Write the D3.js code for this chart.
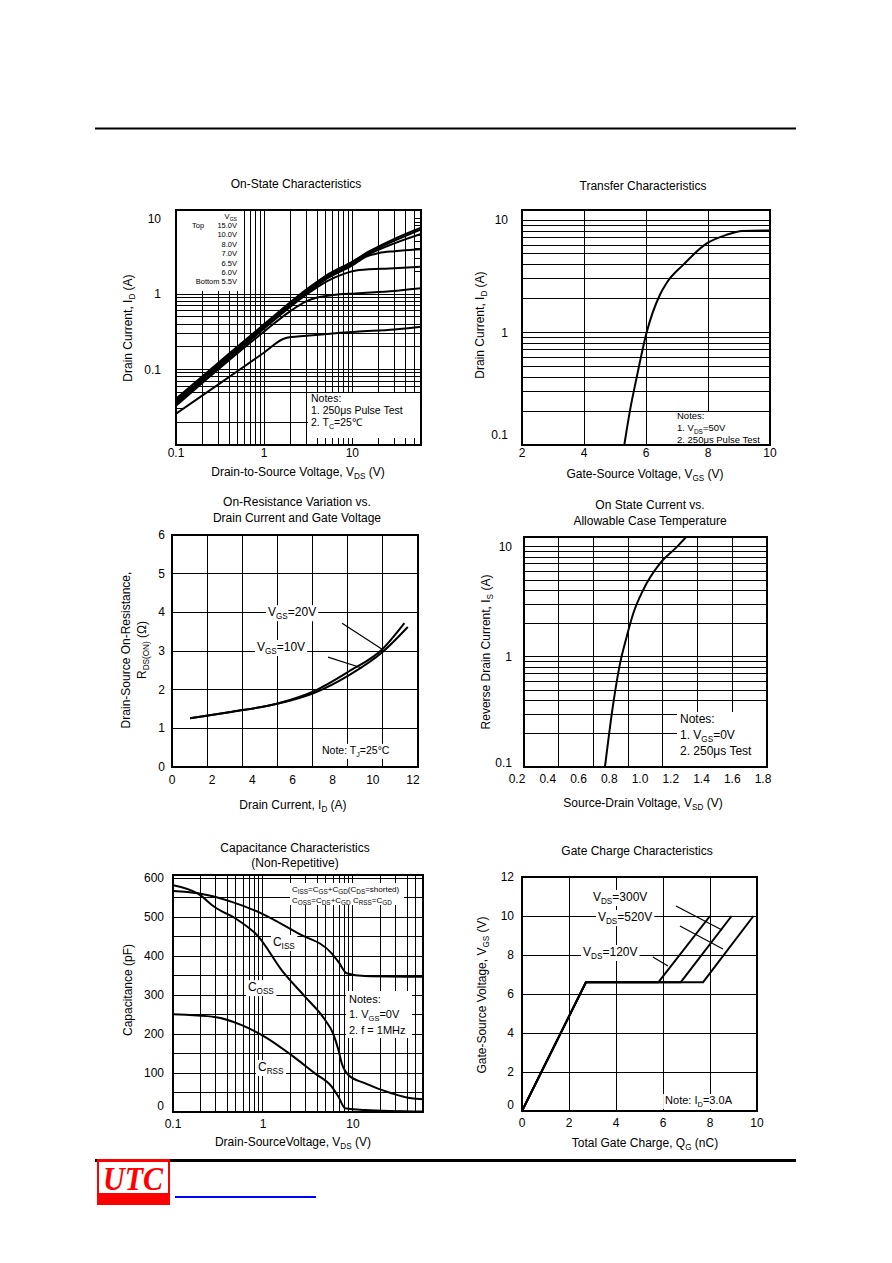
<!DOCTYPE html>
<html>
<head>
<meta charset="utf-8">
<title>MOSFET characteristic curves</title>
<style>
body { margin: 0; background: #fff; }
svg { display: block; }
text { font-family: "Liberation Sans", Arial, sans-serif; fill: #000; }
.grid { stroke: #000; stroke-width: 1px; shape-rendering: crispEdges; }
.frame { fill: none; stroke: #000; stroke-width: 1.3px; shape-rendering: crispEdges; }
.curve { fill: none; stroke: #000; stroke-width: 2px; stroke-linejoin: round; }
.lead { stroke: #000; stroke-width: 1.2px; }
</style>
</head>
<body>
<script src="https://cdn.jsdelivr.net/npm/d3@7/dist/d3.min.js"></script>
<script>

// ---- On-State Characteristics: [VDS (V), ID (A)] per gate voltage ----
var onStateVgs = ["15.0V", "10.0V", "8.0V", "7.0V", "6.5V", "6.0V", "5.5V"];
var onState150 = [[0.1,0.041],[0.3,0.122],[1,0.40],[3,1.15],[5,1.75],[10,2.7],[16,3.75],[30,5.4],[60,7.6]];
var onState100 = [[0.1,0.039],[0.3,0.117],[1,0.38],[3,1.10],[5,1.70],[10,2.6],[16,3.6],[30,5.1],[60,7.2]];
var onState80  = [[0.1,0.037],[0.3,0.112],[1,0.37],[3,1.06],[5,1.64],[10,2.5],[16,3.45],[30,4.7],[60,6.25]];
var onState70  = [[0.1,0.036],[0.3,0.108],[1,0.36],[3,1.02],[5,1.58],[10,2.4],[14,3.1],[20,3.5],[30,3.7],[60,3.94]];
var onState65  = [[0.1,0.035],[0.3,0.105],[1,0.35],[3,0.98],[5,1.45],[8,1.85],[12,2.08],[30,2.2],[60,2.31]];
var onState60  = [[0.1,0.033],[0.3,0.10],[1,0.32],[2,0.60],[3,0.80],[4,0.9],[6,0.97],[11,1.02],[30,1.1],[60,1.19]];
var onState55  = [[0.1,0.026],[0.3,0.063],[1,0.168],[1.73,0.26],[3,0.28],[11,0.317],[30,0.34],[60,0.37]];
var onStateCurves = [onState150, onState100, onState80, onState70, onState65, onState60, onState55];

// ---- Transfer Characteristics ----
var transferVgs = [5.3, 5.48, 5.7, 6.02, 6.45, 6.67, 7.2, 7.96, 8.6, 9.1, 10];
var transferId  = [0.1, 0.2, 0.4, 1.0, 2.17, 2.77, 4.0, 6.2, 7.4, 8.0, 8.1];

// ---- On-Resistance vs Drain Current ----
var rdsIdA = [0.9, 3, 5.3, 7.1, 8.8, 10.5, 11.57];
var rdsA   = [1.26, 1.43, 1.65, 1.97, 2.47, 3.06, 3.72];
var rdsIdB = [0.9, 3, 5.3, 7.1, 8.8, 10.5, 11.74];
var rdsB   = [1.26, 1.43, 1.64, 1.92, 2.37, 2.98, 3.62];

// ---- Reverse drain current vs source-drain voltage ----
var diodeVsd = [0.772, 0.826, 0.87, 0.913, 0.956, 1.02, 1.13, 1.24, 1.30];
var diodeIs  = [0.1, 0.377, 0.87, 1.52, 2.48, 4.04, 7.07, 10, 12.3];

// ---- Capacitance: [VDS (V), C (pF)] ----
var cissData = [[0.1,567],[0.19,561],[0.45,539],[0.97,509],[2.46,458],[5.8,407],[6.9,385],[8.5,356],[13.5,349],[60,347]];
var cossData = [[0.1,582],[0.19,560],[0.29,526],[0.53,492],[0.89,450],[1.61,364],[2.93,296],[4.9,236],[6.0,202],[6.9,159],[7.5,125],[8.9,95],[13.5,74],[26.8,48],[44.7,35],[60,33]];
var crssData = [[0.1,251],[0.29,244],[0.58,223],[1.05,193],[2.07,146],[3.78,99],[5.8,65],[6.9,39],[8.2,9.5],[13.5,5],[60,1]];

// ---- Gate charge: QG (nC) / VGS (V) per drain voltage ----
var gateVds = ["120V", "300V", "520V"];
var qg120 = [0, 2.72, 5.8, 8.0];
var qg300 = [0, 2.72, 6.75, 8.92];
var qg520 = [0, 2.72, 7.7, 9.85];
var vgsSteps = [0, 6.6, 6.6, 10];

var svg = d3.select("body").append("svg").attr("width", 892).attr("height", 1263);
var clipN = 0;

function label(g, x, y, str, o) {
  o = o || {};
  var size = o.size || 12;
  var subScale = o.sub || 0.68;
  var t = g.append("text").attr("x", x).attr("y", y).attr("font-size", size)
    .attr("text-anchor", o.anchor || "start");
  if (o.rotate) t.attr("transform", "rotate(-90," + x + "," + y + ")");
  var shift = Math.round(size * 0.28), low = false;
  str.split(/(_\{[^}]*\})/).forEach(function(p) {
    if (!p) return;
    if (p.slice(0, 2) === "_{") {
      t.append("tspan").attr("font-size", size * subScale).attr("dy", low ? 0 : shift).text(p.slice(2, -1));
      low = true;
    } else {
      var s = t.append("tspan").text(p);
      if (low) s.attr("dy", -shift);
      low = false;
    }
  });
  if (o.bg) {
    var b = t.node().getBBox();
    g.insert("rect", function() { return t.node(); })
      .attr("x", b.x - 2).attr("y", b.y).attr("width", b.width + 4).attr("height", b.height)
      .attr("fill", "#fff");
  }
  return t;
}
function vline(g, x, y0, y1) {
  g.append("line").attr("class", "grid").attr("x1", x).attr("x2", x).attr("y1", y0).attr("y2", y1);
}
function hline(g, y, x0, x1) {
  g.append("line").attr("class", "grid").attr("x1", x0).attr("x2", x1).attr("y1", y).attr("y2", y);
}
function whiteBox(g, x, y, w, h) {
  g.append("rect").attr("x", x).attr("y", y).attr("width", w).attr("height", h).attr("fill", "#fff");
}
function frame(g, c) {
  g.append("rect").attr("class", "frame").attr("x", c.l).attr("y", c.t)
    .attr("width", c.r - c.l).attr("height", c.b - c.t);
}
function clipFor(g, c) {
  var id = "clip" + (++clipN);
  g.append("clipPath").attr("id", id).append("rect")
    .attr("x", c.l).attr("y", c.t).attr("width", c.r - c.l).attr("height", c.b - c.t);
  return "url(#" + id + ")";
}
function lead(g, x, y, p, q) {
  g.append("line").attr("class", "lead")
    .attr("x1", x(p[0])).attr("y1", y(p[1])).attr("x2", x(q[0])).attr("y2", y(q[1]));
}

// page rules and logo
svg.append("line").attr("x1", 95).attr("x2", 796).attr("y1", 128.5).attr("y2", 128.5)
  .attr("stroke", "#000").attr("stroke-width", 2);
svg.append("line").attr("x1", 95).attr("x2", 796).attr("y1", 1160.5).attr("y2", 1160.5)
  .attr("stroke", "#000").attr("stroke-width", 3);
svg.append("rect").attr("x", 97).attr("y", 1159).attr("width", 73).attr("height", 46).attr("fill", "#f00");
svg.append("rect").attr("x", 99).attr("y", 1162).attr("width", 69).attr("height", 31).attr("fill", "#fff");
svg.append("text").attr("x", 133).attr("y", 1190).attr("text-anchor", "middle")
  .style("font-family", "'Liberation Serif', 'DejaVu Serif', serif")
  .attr("font-style", "italic").attr("font-weight", "bold").attr("font-size", 33)
  .attr("textLength", 60).attr("lengthAdjust", "spacingAndGlyphs")
  .style("fill", "#f00").text("UTC");
svg.append("line").attr("x1", 175).attr("x2", 316).attr("y1", 1197).attr("y2", 1197)
  .attr("stroke", "#00f").attr("stroke-width", 2);

// ================= 1. On-State Characteristics =================
var c1 = {l: 176, r: 421, t: 210, b: 445};
var x1 = d3.scaleLog().domain([0.1, 60]).range([c1.l, c1.r]);
var y1 = d3.scaleLog().domain([0.01, 13]).range([c1.b, c1.t]);
var g1 = svg.append("g");
x1.ticks().forEach(function(v) { vline(g1, x1(v), c1.t, c1.b); });
y1.ticks().forEach(function(v) {
  if ((v >= 0.05 && v <= 1.0001) || Math.abs(v - 0.02) < 1e-9) hline(g1, y1(v), c1.l, c1.r);
  else { hline(g1, y1(v), c1.l, c1.l + 7); hline(g1, y1(v), c1.r - 7, c1.r); }
});
whiteBox(g1, c1.l + 1, c1.t + 1, 61, 80);
whiteBox(g1, 308, 393, c1.r - 309, c1.b - 394);
x1.ticks().forEach(function(v) { vline(g1, x1(v), c1.b - 7, c1.b); });
frame(g1, c1);
var line1 = d3.line().x(function(d) { return x1(d[0]); }).y(function(d) { return y1(d[1]); })
  .curve(d3.curveMonotoneX);
var clip1 = clipFor(g1, c1);
onStateCurves.forEach(function(s, i) {
  g1.append("path").attr("class", "curve").attr("clip-path", clip1)
    .attr("stroke-width", i < 3 ? 2.4 : 2).attr("d", line1(s));
});
label(g1, 237, 219, "V_{GS}", {size: 7.5, anchor: "end"});
label(g1, 192, 228, "Top", {size: 7.5});
onStateVgs.forEach(function(v, i) {
  label(g1, 237, 228 + i * 9.4, (i === onStateVgs.length - 1 ? "Bottom " : "") + v, {size: 7.5, anchor: "end"});
});
label(g1, 311, 402, "Notes:", {size: 10.5});
label(g1, 311, 414, "1. 250\u03bcs Pulse Test", {size: 10.5});
label(g1, 311, 426, "2. T_{C}=25\u2103", {size: 10.5});
[0.1, 1, 10].forEach(function(v) {
  label(g1, x1(v), c1.b + 12, String(v), {anchor: "middle"});
  label(g1, c1.l - 15, y1(v) + 4, String(v), {anchor: "end"});
});
label(g1, 296, 188, "On-State Characteristics", {anchor: "middle"});
label(g1, 298, 476, "Drain-to-Source Voltage, V_{DS} (V)", {anchor: "middle"});
label(g1, 132, 328, "Drain Current, I_{D} (A)", {anchor: "middle", rotate: true});

// ================= 2. Transfer Characteristics =================
var c2 = {l: 522, r: 770, t: 210, b: 445};
var x2 = d3.scaleLinear().domain([2, 10]).range([c2.l, c2.r]);
var y2 = d3.scaleLog().domain([0.1, 12.3]).range([c2.b, c2.t]);
var g2 = svg.append("g");
[4, 6, 8].forEach(function(v) { vline(g2, x2(v), c2.t, c2.b); });
y2.ticks().forEach(function(v) { hline(g2, y2(v), c2.l, c2.r); });
whiteBox(g2, 673, 412, c2.r - 674, c2.b - 413);
frame(g2, c2);
g2.append("path").attr("class", "curve").attr("clip-path", clipFor(g2, c2))
  .attr("d", d3.line().x(function(d, i) { return x2(transferVgs[i]); })
    .y(function(d) { return y2(d); }).curve(d3.curveMonotoneX)(transferId));
label(g2, 677, 419, "Notes:", {size: 9.5});
label(g2, 677, 431, "1. V_{DS}=50V", {size: 9.5});
label(g2, 677, 443, "2. 250\u03bcs Pulse Test", {size: 9.5});
[2, 4, 6, 8, 10].forEach(function(v) { label(g2, x2(v), c2.b + 12, String(v), {anchor: "middle"}); });
[0.1, 1, 10].forEach(function(v) {
  label(g2, c2.l - 14, y2(v) + 4 - (v === 0.1 ? 10 : 0), String(v), {anchor: "end"});
});
label(g2, 643, 190, "Transfer Characteristics", {anchor: "middle"});
label(g2, 645, 478, "Gate-Source Voltage, V_{GS} (V)", {anchor: "middle"});
label(g2, 484, 325, "Drain Current, I_{D} (A)", {anchor: "middle", rotate: true});

// ================= 3. On-Resistance =================
var c3 = {l: 172, r: 418, t: 535, b: 767};
var x3 = d3.scaleLinear().domain([0, 12]).range([172, 413]);
var y3 = d3.scaleLinear().domain([0, 6]).range([c3.b, c3.t]);
var g3 = svg.append("g");
d3.range(1, 7).forEach(function(i) { vline(g3, c3.l + i * (c3.r - c3.l) / 7, c3.t, c3.b); });
d3.range(1, 6).forEach(function(v) { hline(g3, y3(v), c3.l, c3.r); });
frame(g3, c3);
var line3 = function(xs, ys) {
  return d3.line().x(function(d, i) { return x3(xs[i]); }).y(function(d) { return y3(d); })
    .curve(d3.curveMonotoneX)(ys);
};
g3.append("path").attr("class", "curve").attr("d", line3(rdsIdA, rdsA));
g3.append("path").attr("class", "curve").attr("d", line3(rdsIdB, rdsB));
label(g3, x3(4.78), y3(3.9), "V_{GS}=20V", {bg: true});
label(g3, x3(4.23), y3(3.0), "V_{GS}=10V", {bg: true});
lead(g3, x3, y3, [8.47, 3.72], [10.5, 3.03]);
lead(g3, x3, y3, [7.77, 2.84], [9.46, 2.56]);
label(g3, x3(7.47), y3(0.34), "Note: T_{J}=25\u00b0C", {size: 10.5, bg: true});
[0, 2, 4, 6, 8, 10, 12].forEach(function(v) { label(g3, x3(v), c3.b + 17, String(v), {anchor: "middle"}); });
d3.range(0, 7).forEach(function(v) { label(g3, c3.l - 7, y3(v) + 4, String(v), {anchor: "end"}); });
label(g3, 297, 506, "On-Resistance Variation vs.", {anchor: "middle"});
label(g3, 297, 522, "Drain Current and Gate Voltage", {anchor: "middle"});
label(g3, 293, 809, "Drain Current, I_{D} (A)", {anchor: "middle"});
label(g3, 130, 650, "Drain-Source On-Resistance,", {anchor: "middle", rotate: true});
label(g3, 146, 650, "R_{DS(ON)} (\u03a9)", {anchor: "middle", rotate: true});

// ================= 4. Reverse drain current =================
var c4 = {l: 524, r: 767, t: 537, b: 767};
var x4 = d3.scaleLinear().domain([0.2, 1.8]).range([517, 763]);
var y4 = d3.scaleLog().domain([0.1, 12.3]).range([c4.b, c4.t]);
var g4 = svg.append("g");
d3.range(1, 7).forEach(function(i) { vline(g4, c4.l + i * (c4.r - c4.l) / 7, c4.t, c4.b); });
y4.ticks().forEach(function(v) { hline(g4, y4(v), c4.l, c4.r); });
whiteBox(g4, 677, 712, c4.r - 678, c4.b - 713);
frame(g4, c4);
g4.append("path").attr("class", "curve").attr("clip-path", clipFor(g4, c4))
  .attr("stroke-width", 2.2)
  .attr("d", d3.line().x(function(d, i) { return x4(diodeVsd[i]); })
    .y(function(d) { return y4(d); }).curve(d3.curveMonotoneX)(diodeIs));
label(g4, 680, 723, "Notes:");
label(g4, 680, 739, "1. V_{GS}=0V");
label(g4, 680, 755, "2. 250\u03bcs Test");
d3.range(0.2, 1.81, 0.2).forEach(function(v) {
  label(g4, x4(v), c4.b + 16, v.toFixed(1), {anchor: "middle"});
});
[0.1, 1, 10].forEach(function(v) {
  label(g4, c4.l - 12, y4(v) + 4 - (v === 0.1 ? 4 : 0), String(v), {anchor: "end"});
});
label(g4, 650, 509, "On State Current vs.", {anchor: "middle"});
label(g4, 650, 525, "Allowable Case Temperature", {anchor: "middle"});
label(g4, 643, 807, "Source-Drain Voltage, V_{SD} (V)", {anchor: "middle"});
label(g4, 490, 652, "Reverse Drain Current, I_{S} (A)", {anchor: "middle", rotate: true});

// ================= 5. Capacitance =================
var c5 = {l: 173, r: 423, t: 875, b: 1112};
var x5 = d3.scaleLog().domain([0.1, 60]).range([c5.l, c5.r]);
var y5 = d3.scaleLinear().domain([0, 608]).range([c5.b, c5.t]);
var g5 = svg.append("g");
x5.ticks().forEach(function(v) { vline(g5, x5(v), c5.t, c5.b); });
d3.range(50, 601, 50).forEach(function(v) { hline(g5, y5(v), c5.l, c5.r); });
whiteBox(g5, 290, 883, 114, 22);
whiteBox(g5, 346, 991, 66, 47);
frame(g5, c5);
var line5 = d3.line().x(function(d) { return x5(d[0]); }).y(function(d) { return y5(d[1]); })
  .curve(d3.curveMonotoneX);
var clip5 = clipFor(g5, c5);
[cissData, cossData, crssData].forEach(function(s) {
  g5.append("path").attr("class", "curve").attr("clip-path", clip5).attr("d", line5(s));
});
label(g5, 292, 892, "C_{ISS}=C_{GS}+C_{GD}(C_{DS}=shorted)", {size: 8, sub: 0.8});
label(g5, 292, 903, "C_{OSS}=C_{DS}+C_{GD}  C_{RSS}=C_{GD}", {size: 8, sub: 0.8});
label(g5, x5(1.29), y5(426), "C_{ISS}", {bg: true});
label(g5, x5(0.68), y5(310), "C_{OSS}", {bg: true});
label(g5, x5(0.88), y5(105), "C_{RSS}", {bg: true});
label(g5, 349, 1003, "Notes:", {size: 11});
label(g5, 349, 1018, "1. V_{GS}=0V", {size: 11});
label(g5, 349, 1034, "2. f = 1MHz", {size: 11});
[0.1, 1, 10].forEach(function(v) { label(g5, x5(v), c5.b + 16, String(v), {anchor: "middle"}); });
d3.range(0, 601, 100).forEach(function(v) {
  label(g5, c5.l - 9, y5(v) + 4 - (v === 0 ? 6 : 0), String(v), {anchor: "end"});
});
label(g5, 295, 852, "Capacitance Characteristics", {anchor: "middle"});
label(g5, 295, 867, "(Non-Repetitive)", {anchor: "middle"});
label(g5, 293, 1146, "Drain-SourceVoltage, V_{DS} (V)", {anchor: "middle"});
label(g5, 132, 990, "Capacitance (pF)", {anchor: "middle", rotate: true});

// ================= 6. Gate Charge =================
var c6 = {l: 522, r: 757, t: 877, b: 1111};
var x6 = d3.scaleLinear().domain([0, 10]).range([c6.l, c6.r]);
var y6 = d3.scaleLinear().domain([0, 12]).range([c6.b, c6.t]);
var g6 = svg.append("g");
[2, 4, 6, 8].forEach(function(v) { vline(g6, x6(v), c6.t, c6.b); });
[2, 4, 6, 8, 10].forEach(function(v) { hline(g6, y6(v), c6.l, c6.r); });
frame(g6, c6);
[qg120, qg300, qg520].forEach(function(q) {
  g6.append("path").attr("class", "curve").attr("stroke-width", 2.2)
    .attr("d", d3.line().x(function(d, i) { return x6(q[i]); }).y(function(d) { return y6(d); })(vgsSteps));
});
label(g6, x6(3.02), y6(10.77), "V_{DS}=" + gateVds[1], {bg: true});
label(g6, x6(3.23), y6(9.74), "V_{DS}=" + gateVds[2], {bg: true});
label(g6, x6(2.6), y6(7.95), "V_{DS}=" + gateVds[0], {bg: true});
lead(g6, x6, y6, [6.55, 10.51], [8.51, 9.28]);
lead(g6, x6, y6, [6.72, 9.49], [8.55, 8.31]);
lead(g6, x6, y6, [5.57, 7.9], [6.21, 7.44]);
label(g6, x6(6.09), y6(0.36), "Note: I_{D}=3.0A", {size: 11, bg: true});
[0, 2, 4, 6, 8, 10].forEach(function(v) { label(g6, x6(v), c6.b + 16, String(v), {anchor: "middle"}); });
d3.range(0, 13, 2).forEach(function(v) {
  label(g6, c6.l - 8, y6(v) + 4 - (v === 0 ? 6 : 0), String(v), {anchor: "end"});
});
label(g6, 637, 855, "Gate Charge Characteristics", {anchor: "middle"});
label(g6, 645, 1147, "Total Gate Charge, Q_{G} (nC)", {anchor: "middle"});
label(g6, 486, 995, "Gate-Source Voltage, V_{GS} (V)", {anchor: "middle", rotate: true});

</script>
</body>
</html>
